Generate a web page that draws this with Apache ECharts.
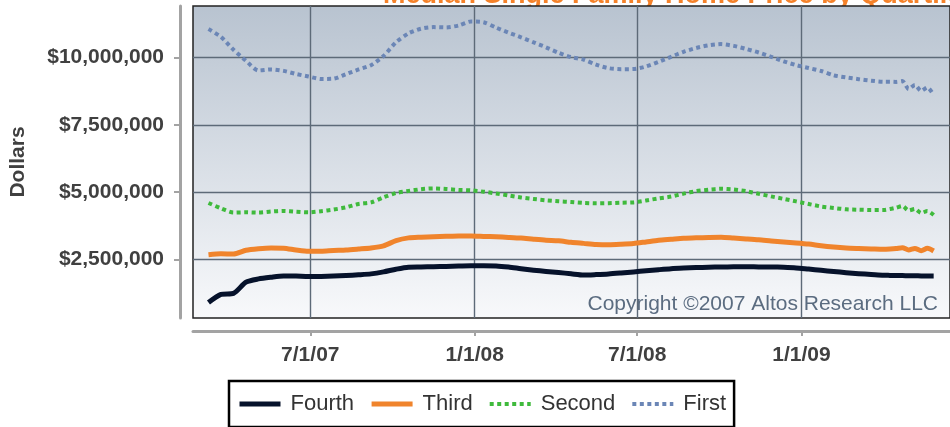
<!DOCTYPE html>
<html><head><meta charset="utf-8">
<script src="https://cdn.jsdelivr.net/npm/echarts@6/dist/echarts.min.js"></script>
<style>html,body{margin:0;padding:0;background:#fff}#c{width:950px;height:427px}</style>
</head><body><div id="c"></div>
<script>
// ---- data ----
const dates = [
 '2007-03-09','2007-03-23','2007-04-06','2007-04-20','2007-05-04','2007-05-18','2007-06-01','2007-06-15','2007-06-29',
 '2007-07-13','2007-07-27','2007-08-10','2007-08-24','2007-09-07','2007-09-21','2007-10-05','2007-10-19','2007-11-02',
 '2007-11-16','2007-11-30','2007-12-14','2007-12-28','2008-01-11','2008-01-25','2008-02-08','2008-02-22','2008-03-07',
 '2008-03-21','2008-04-04','2008-04-18','2008-05-02','2008-05-16','2008-05-30','2008-06-13','2008-06-27','2008-07-11',
 '2008-07-25','2008-08-08','2008-08-22','2008-09-05','2008-09-19','2008-10-03','2008-10-17','2008-10-31','2008-11-14',
 '2008-11-28','2008-12-12','2008-12-26','2009-01-09','2009-01-23','2009-02-06','2009-02-20','2009-03-06','2009-03-20',
 '2009-04-03','2009-04-10','2009-04-17','2009-04-24','2009-05-01','2009-05-08','2009-05-15','2009-05-22','2009-05-29'
];
const fourth = [
 893000,1194000,1232000,1648000,1771000,1834000,1879000,1875000,1857000,1864000,1875000,1897000,1923000,1957000,
 2031000,2132000,2206000,2214000,2225000,2236000,2247000,2258000,2258000,2251000,2210000,2150000,2095000,2050000,
 2009000,1961000,1916000,1931000,1953000,1990000,2031000,2072000,2113000,2150000,2173000,2191000,2206000,2214000,
 2221000,2225000,2217000,2214000,2202000,2180000,2135000,2091000,2046000,2002000,1964000,1935000,1905000,
 1901000,1897000,1894000,1890000,1886000,1882000,1879000,1879000
];
const third = [
 2667000,2705000,2697000,2835000,2891000,2920000,2913000,2846000,2798000,2801000,2827000,2846000,2883000,2924000,
 3002000,3192000,3296000,3322000,3341000,3356000,3363000,3367000,3352000,3337000,3315000,3289000,3248000,3211000,
 3188000,3133000,3092000,3051000,3039000,3058000,3088000,3147000,3207000,3244000,3281000,3300000,3311000,3318000,
 3289000,3259000,3226000,3181000,3140000,3107000,3066000,3002000,2954000,2920000,2902000,2887000,2872000,
 2883000,2902000,2932000,2846000,2902000,2820000,2909000,2809000
];
const second = [
 4595000,4394000,4237000,4249000,4237000,4275000,4301000,4271000,4249000,4290000,4349000,4435000,4557000,4617000,
 4807000,4967000,5041000,5108000,5138000,5115000,5082000,5063000,5015000,4948000,4874000,4799000,4743000,4695000,
 4658000,4632000,4598000,4583000,4587000,4605000,4617000,4688000,4766000,4833000,4944000,5034000,5089000,5123000,
 5097000,5034000,4937000,4840000,4747000,4654000,4557000,4464000,4409000,4360000,4345000,4334000,4334000,
 4371000,4420000,4483000,4316000,4371000,4223000,4297000,4148000
];
const first = [
 11064000,10774000,10294000,9885000,9524000,9565000,9509000,9394000,9301000,9208000,9219000,9390000,9561000,9721000,
 10063000,10573000,10904000,11079000,11138000,11127000,11198000,11347000,11321000,11120000,10930000,10759000,10573000,10387000,
 10182000,10022000,9929000,9740000,9609000,9572000,9576000,9676000,9844000,10033000,10219000,10361000,10461000,10506000,
 10439000,10324000,10193000,10033000,9866000,9725000,9617000,9505000,9345000,9267000,9200000,9144000,9107000,
 9107000,9100000,9130000,8836000,8984000,8761000,8891000,8612000
];
const seriesNames = ['Fourth','Third','Second','First'];
const yTickValues = [2500000,5000000,7500000,10000000];
const xTickDates = ['2007-07-01','2008-01-01','2008-07-01','2009-01-01'];

// ---- chart ----
const toTs = s => Date.UTC(+s.slice(0,4), +s.slice(5,7)-1, +s.slice(8,10));
const DAY = 86400000;
const T0 = toTs('2007-07-01');
const FONT = '"Liberation Sans", Arial, Helvetica, sans-serif';
const valuesByName = {Fourth: fourth, Third: third, Second: second, First: first};
const styles = {
  Fourth: {color:'#06122b', width:5, type:'solid'},
  Third:  {color:'#f0842c', width:5, type:'solid'},
  Second: {color:'#3fba3c', width:4, type:[4,3.5]},
  First:  {color:'#6b86b6', width:4, type:[4,3.5]}
};
const xTicks = xTickDates.map(toTs);
const fmtDate = v => { const d = new Date(v); return (d.getUTCMonth()+1)+'/'+d.getUTCDate()+'/'+String(d.getUTCFullYear()).slice(2); };
const axisGray = '#a3a3a3';
const gridLine = {show:true, lineStyle:{color:'#5d6a78', width:1.4}};

const chart = echarts.init(document.getElementById('c'));
chart.setOption({
  animation: false,
  textStyle: {fontFamily: FONT},
  title: {
    text: 'Median Single Family Home Price by Quartile',
    left: 383, top: -18, padding: 0, z: -1,
    textStyle: {color:'#f5822a', fontSize:27, fontWeight:'bold', fontFamily: FONT}
  },
  grid: {
    left: 192, right: -10, top: 6, bottom: 109, show: true,
    backgroundColor: new echarts.graphic.LinearGradient(0,0,0,1,[{offset:0,color:'#b8c3d0'},{offset:1,color:'#f8f9fb'}]),
    borderColor: '#222', borderWidth: 1.5
  },
  xAxis: {
    type: 'value',
    min: T0 - 131.35*DAY, max: T0 + 716.3*DAY,
    offset: 13,
    axisLine: {show:true, lineStyle:{color:axisGray, width:3}},
    axisTick: {show:true, customValues: xTicks, length:5, lineStyle:{color:axisGray, width:2}},
    axisLabel: {customValues: xTicks, formatter: fmtDate, fontSize:21, fontWeight:'bold', color:'#404040', margin:14, fontFamily: FONT},
    splitLine: gridLine
  },
  yAxis: {
    type: 'value',
    min: 316000, max: 11923000,
    offset: 13,
    name: 'Dollars', nameLocation: 'middle', nameGap: 151,
    nameTextStyle: {fontSize:21, fontWeight:'bold', color:'#404040', fontFamily: FONT},
    axisLine: {show:true, lineStyle:{color:axisGray, width:3}},
    axisTick: {show:true, customValues: yTickValues, length:6, lineStyle:{color:axisGray, width:2}},
    axisLabel: {customValues: yTickValues, formatter: v => '$' + Number(v).toLocaleString('en-US'),
      fontSize:21, fontWeight:'bold', color:'#404040', margin:16, fontFamily: FONT},
    splitLine: gridLine
  },
  legend: {
    data: seriesNames,
    left: 229, top: 381,
    borderColor: '#000', borderWidth: 2.5, backgroundColor: '#fff',
    padding: [12, 8, 12, 8],
    itemWidth: 41, itemHeight: 14, itemGap: 15,
    itemStyle: {opacity: 0},
    lineStyle: {width: 'inherit'},
    textStyle: {fontSize: 22, color: '#333', fontFamily: FONT, padding: [0,0,0,5]}
  },
  graphic: [{
    type: 'text', right: 12, top: 294, z: 100,
    style: {text: 'Copyright \u00a92007 Altos Research LLC', font: '21px ' + FONT, fill: '#5b6c80'}
  }],
  series: seriesNames.map(name => ({
    name, type: 'line', symbol: 'none', showSymbol: false, smooth: 0.25,
    color: styles[name].color,
    lineStyle: {color: styles[name].color, width: styles[name].width, type: styles[name].type, cap: 'butt', join: 'round'},
    data: dates.map((d, i) => [toTs(d), valuesByName[name][i]])
  }))
});
</script>
</body></html>
